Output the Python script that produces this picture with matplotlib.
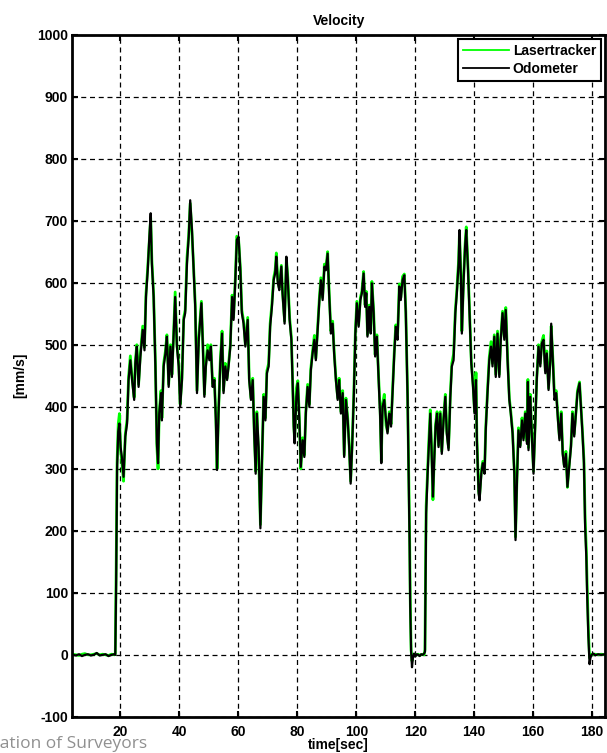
import matplotlib
matplotlib.use("Agg")
import matplotlib.pyplot as plt
import numpy as np

# time [sec] and velocity [mm/s]
t = [3.7, 5, 6, 7, 8, 9, 10, 11, 12, 13, 14, 15, 16, 17, 18, 18.3,
     18.6, 18.9, 19.3, 19.7, 20.1, 20.5, 21.1, 21.7, 22.3, 22.8, 23.4, 24, 24.7,
     25.1, 25.6, 26.2, 26.8, 27.6, 28.2, 28.7, 29.3, 29.8, 30.3, 30.7, 31.3,
     31.9, 32.4, 32.8, 33.2, 33.8, 34.1, 34.7, 35.3, 35.8, 36.4, 37, 37.5,
     38.1, 38.6, 39.2, 39.8, 40.3, 40.9, 41.5, 42, 42.6, 43.2, 43.7, 44.3,
     44.9, 45.4, 46, 46.6, 47.5, 48, 48.5, 49, 49.6, 50.2, 50.7, 51.3, 51.9,
     52.4, 52.8, 53.3, 53.9, 54.5, 55, 55.6, 56.2, 56.7, 57.3, 57.9, 58.4,
     59, 59.5, 60.1, 60.7, 61.2, 61.8, 62.4, 63.2, 63.7, 64.3, 64.9, 65.4,
     65.9, 66.3, 66.9, 67.5, 68, 68.6, 69.2, 69.7, 70.3, 70.8, 71.4, 72,
     72.5, 72.9, 73.4, 73.9, 74.6, 75, 75.7, 76.3, 76.8, 77.4, 78, 78.4,
     78.8, 79.1, 79.7, 80.2, 80.7, 81.2, 81.8, 82.4, 82.9, 83.5, 84.1, 84.6,
     85.2, 85.8, 86.3, 86.9, 87.5, 88, 88.6, 89.2, 89.7, 90.3, 90.8, 91.4,
     92, 92.5, 93.1, 93.7, 94.2, 94.8, 95.4, 95.9, 96.5, 97.1, 97.6, 98.1,
     98.6, 99.2, 99.7, 100.2, 100.8, 101.4, 101.9, 102.5, 103, 103.4, 103.8,
     104.4, 104.9, 105.3, 105.9, 106.4, 107, 107.6, 108.1, 108.5, 108.9,
     109.5, 110.1, 110.6, 111.2, 111.8, 112.3, 112.9, 113.4, 114, 114.6,
     115.1, 115.7, 116.3, 116.8, 117.4, 117.7, 118.1, 118.3, 118.6, 118.9,
     119.2, 119.6, 120, 120.5, 121, 121.5, 122, 122.5, 123, 123.3, 123.5,
     123.7, 124.2, 124.6, 125.1, 125.5, 126, 126.4, 126.9, 127.4, 127.9,
     128.5, 129, 129.6, 130.2, 130.7, 131.3, 131.9, 132.4, 133, 133.6, 134.1,
     134.7, 135, 135.5, 135.8, 136.4, 136.9, 137.3, 137.9, 138.4, 139, 139.6,
     140.1, 140.6, 140.9, 141.5, 141.8, 142.4, 142.9, 143.5, 143.9, 144.5,
     145.1, 145.7, 146.2, 146.8, 147.3, 147.9, 148.5, 149, 149.6, 150.2,
     150.7, 151.3, 151.9, 152.4, 153, 153.6, 154, 154.5, 155, 155.6, 156.2,
     156.7, 157.3, 157.9, 158.2, 158.4, 159, 159.5, 160.1, 160.7, 161.2,
     161.8, 162.4, 162.9, 163.5, 164.1, 164.6, 165.2, 165.8, 166.1, 166.7,
     167.2, 167.8, 168.4, 168.9, 169.5, 170, 170.5, 171.1, 171.6, 172.2,
     172.8, 173.3, 173.9, 174.5, 175, 175.7, 176.3, 176.7, 177.2, 177.4,
     177.6, 178, 178.3, 178.7, 179.1, 179.4, 179.8, 180.5, 181, 182, 183, 184.4]

odometer = [0, -1, 1, -2, 0, 1, -1, 0, 3, -1, 0, 1, -2, 0, 1, 0,
            120, 300, 360, 373, 335, 320, 287, 352, 373, 443, 475, 443, 411,
            470, 497, 432, 480, 524, 491, 577, 620, 669, 712, 631, 577,
            465, 341, 309, 389, 422, 378, 465, 486, 513, 432, 497, 448,
            518, 577, 497, 465, 400, 443, 540, 551, 631, 674, 733, 685,
            615, 561, 422, 508, 567, 497, 416, 465, 491, 475, 497, 432, 443,
            378, 298, 389, 470, 518, 422, 465, 443, 465, 497, 577, 540,
            604, 669, 674, 620, 551, 534, 497, 540, 443, 411, 443, 357,
            292, 389, 335, 204, 309, 416, 378, 454, 465, 529, 561, 604,
            615, 642, 600, 588, 626, 583, 534, 642, 604, 540, 508, 443,
            368, 341, 416, 438, 378, 303, 346, 319, 389, 432, 400, 459,
            486, 508, 475, 524, 572, 604, 572, 626, 620, 647, 583, 518,
            534, 486, 443, 411, 443, 389, 422, 319, 411, 378, 335, 276,
            335, 422, 518, 567, 529, 572, 583, 615, 561, 583, 513,
            561, 518, 599, 551, 481, 513, 443, 384, 309, 400,
            411, 378, 357, 389, 368, 422, 486, 529, 508, 594,
            572, 604, 612, 551, 416, 309, 174, 78, 5, -20,
            -5, 2, -3, 1, 0, -2, 1, 0, 2, 5, 120,
            228, 292, 335, 389, 335, 255, 309, 368, 389, 335,
            389, 324, 378, 416, 357, 330, 416, 465, 475, 551, 583,
            631, 685, 604, 518, 604, 658, 685, 620, 551, 470, 432,
            389, 443, 346, 260, 249, 292, 309, 292, 362, 422,
            475, 497, 465, 513, 448, 518, 448, 508, 551, 508,
            556, 475, 411, 389, 357, 292, 185, 282, 362, 335, 378,
            346, 389, 340, 440, 330, 416, 357, 292, 373, 443,
            497, 465, 502, 508, 454, 486, 427, 475, 534, 470,
            411, 422, 378, 346, 389, 324, 303, 324, 271, 303,
            335, 389, 352, 389, 422, 438, 389, 357, 309, 260,
            207, 158, 94, 30, -15, -5, 0, 2, -1, 1, 0, 1]

lasertracker = [1, 0, -1, 1, 2, 0, 0, 1, 2, 0, 1, 0, -1, 1, 0, 2,
                140, 310, 372, 389, 330, 312, 280, 356, 380, 448, 482, 446, 415,
                474, 500, 436, 486, 530, 496, 582, 625, 664, 705, 636, 580,
                470, 336, 300, 392, 426, 382, 470, 490, 516, 436, 500, 452,
                522, 585, 500, 470, 404, 446, 544, 556, 640, 678, 728, 680,
                620, 566, 426, 512, 570, 500, 420, 470, 500, 480, 500, 436, 446,
                382, 300, 392, 474, 522, 426, 470, 446, 468, 500, 580, 544,
                608, 675, 670, 624, 556, 538, 500, 544, 446, 414, 446, 360,
                296, 392, 320, 210, 300, 420, 382, 458, 470, 534, 566, 608,
                620, 648, 604, 592, 628, 586, 538, 640, 608, 544, 512, 446,
                372, 345, 430, 442, 382, 300, 350, 322, 392, 436, 404, 462,
                490, 515, 478, 528, 576, 608, 576, 630, 624, 650, 586, 522,
                538, 490, 446, 414, 446, 392, 426, 322, 414, 382, 338, 280,
                338, 426, 522, 570, 532, 576, 586, 618, 564, 586, 516,
                564, 522, 602, 554, 484, 516, 446, 395, 312, 404,
                420, 370, 360, 392, 372, 426, 490, 532, 512, 598,
                576, 610, 614, 554, 420, 318, 190, 90, 8, -10,
                -3, 1, -1, 0, 1, -1, 0, 1, 0, 8, 140,
                240, 300, 345, 395, 340, 250, 312, 372, 392, 338,
                392, 328, 382, 420, 360, 334, 420, 470, 485, 556, 588,
                636, 682, 608, 522, 608, 662, 690, 624, 556, 474, 436,
                392, 455, 350, 264, 255, 296, 312, 296, 366, 426,
                480, 505, 470, 516, 452, 522, 452, 512, 554, 512,
                560, 480, 414, 392, 360, 296, 190, 286, 366, 338, 382,
                350, 392, 344, 444, 334, 420, 360, 296, 376, 446,
                500, 470, 505, 515, 458, 490, 430, 478, 530, 474,
                420, 426, 382, 350, 392, 328, 306, 328, 270, 306,
                338, 392, 356, 392, 426, 440, 392, 360, 314, 270,
                220, 170, 110, 40, -5, 0, 1, 0, 1, 0, 1, 0]

plt.rcParams['font.family'] = ['Liberation Sans', 'DejaVu Sans']
plt.rcParams['font.weight'] = 'bold'
plt.rcParams['axes.unicode_minus'] = False

fig = plt.figure(figsize=(6.07, 7.53), dpi=100)
ax = fig.add_axes([0.119, 0.048, 0.878, 0.906])

ax.plot(t, lasertracker, color='#00ff00', lw=2.0, label='Lasertracker')
ax.plot(t, odometer, color='black', lw=1.6, label='Odometer')

ax.set_xlim(3.7, 184.4)
ax.set_ylim(-100, 1000)
ax.set_xticks(np.arange(20, 181, 20))
ax.set_yticks(np.arange(-100, 1001, 100))
ax.grid(True, color='black', linestyle=(0, (4, 3)), lw=0.9)
ax.tick_params(direction='in', length=4, width=1.5, top=True, right=True,
               labelsize=10, pad=3)
for lab in ax.get_xticklabels() + ax.get_yticklabels():
    lab.set_fontweight('bold')
ax.tick_params(axis='x', pad=6)
for sp in ax.spines.values():
    sp.set_linewidth(2)

ax.set_title('Velocity', fontsize=10, fontweight='bold', pad=7)
ax.set_xlabel('time[sec]', fontsize=10, fontweight='bold', labelpad=-1)
ax.set_ylabel('[mm/s]', fontsize=10, fontweight='bold', labelpad=7)

leg = ax.legend(loc='upper right', fancybox=False, framealpha=1,
                edgecolor='black', borderpad=0.35, handlelength=3.3,
                handletextpad=0.3, labelspacing=0.3, borderaxespad=0.3,
                prop={'weight': 'bold', 'size': 10})
leg.get_frame().set_linewidth(1.5)
for ln in leg.get_lines():
    ln.set_linewidth(1.3)

fig.text(0.243, 0.012, 'International Federation of Surveyors', ha='right',
         va='center', fontsize=12.5, color='#909090', fontweight='normal',
         family=['Open Sans', 'DejaVu Sans'])

fig.savefig('out.png', dpi=100)
